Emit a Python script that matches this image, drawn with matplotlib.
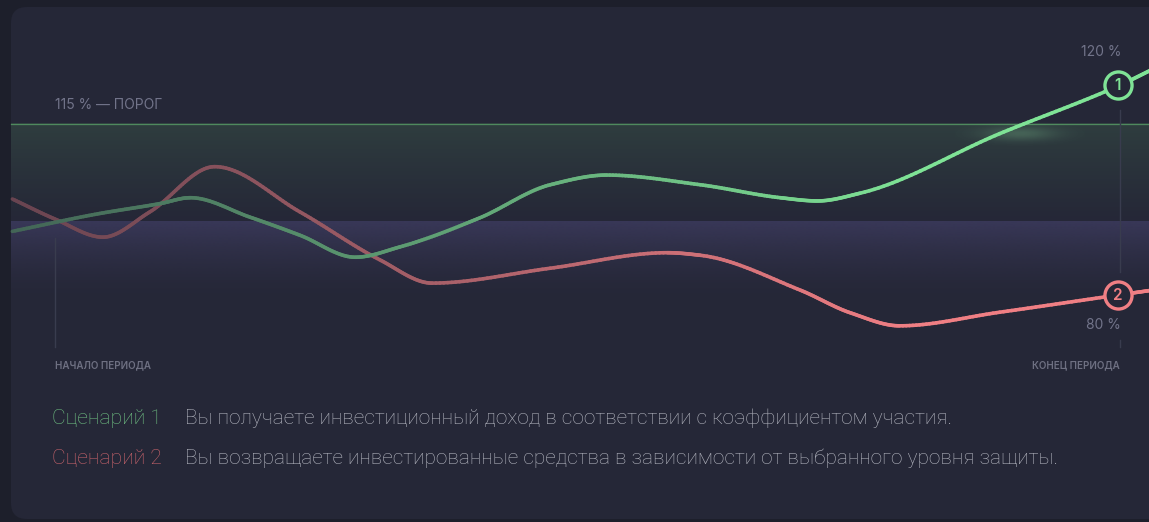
import numpy as np
import matplotlib
matplotlib.use("Agg")
import matplotlib.pyplot as plt
from matplotlib.collections import LineCollection
from matplotlib.patches import FancyBboxPatch
from matplotlib.colors import to_rgb

# period fraction (0 = start, 1 = end) and value, % of invested amount
green_t = [-0.04, 0.04, 0.099, 0.127, 0.183, 0.23, 0.282, 0.324, 0.399, 0.465, 0.518,
           0.606, 0.681, 0.716, 0.756, 0.887, 1.0, 1.03]
green_v = [98.4, 101.1, 102.7, 103.6, 100.6, 97.8, 94.4, 96.0, 100.5, 105.6, 107.1,
           105.6, 103.6, 103.1, 104.3, 113.5, 121.0, 123.4]

red_t = [-0.04, 0.0, 0.045, 0.089, 0.150, 0.230, 0.305, 0.354, 0.465, 0.575,
         0.606, 0.700, 0.747, 0.793, 0.887, 1.0, 1.03]
red_v = [103.4, 100.3, 97.5, 101.4, 108.4, 101.4, 94.0, 90.4, 92.7, 95.1,
         94.7, 89.3, 85.8, 83.8, 85.9, 88.6, 89.3]

threshold = 115
base = 100
scenarios = ["Сценарий 1", "Сценарий 2"]
descriptions = [
    "Вы получаете инвестиционный доход в соответствии с коэффициентом участия.",
    "Вы возвращаете инвестированные средства в зависимости от выбранного уровня защиты.",
]

W, H = 1149, 522
OUTER = "#1d1f2b"
CARD = "#252737"
GREEN = "#7fe396"
RED = "#f07f84"
PX = 6.47  # pixels per percent


def monotone(x, y, n=30):
    # monotone cubic (Fritsch-Carlson) through the points
    x = np.asarray(x, float)
    y = np.asarray(y, float)
    h = np.diff(x)
    d = np.diff(y) / h
    m = np.zeros_like(y)
    m[0], m[-1] = d[0], d[-1]
    for i in range(1, len(x) - 1):
        if d[i - 1] * d[i] <= 0:
            m[i] = 0
        else:
            w1 = 2 * h[i] + h[i - 1]
            w2 = h[i] + 2 * h[i - 1]
            m[i] = (w1 + w2) / (w1 / d[i - 1] + w2 / d[i])
    xs, ys = [], []
    for i in range(len(x) - 1):
        s = np.linspace(0, 1, n, endpoint=False)
        h00 = 2 * s**3 - 3 * s**2 + 1
        h10 = s**3 - 2 * s**2 + s
        h01 = -2 * s**3 + 3 * s**2
        h11 = s**3 - s**2
        xs.append(x[i] + s * h[i])
        ys.append(h00 * y[i] + h10 * h[i] * m[i] + h01 * y[i + 1] + h11 * h[i] * m[i + 1])
    xs.append([x[-1]])
    ys.append([y[-1]])
    return np.concatenate(xs), np.concatenate(ys)


def fade_line(ax, t, v, color, z):
    xs, ys = monotone(t, v)
    pts = np.column_stack([xs, ys]).reshape(-1, 1, 2)
    segs = np.concatenate([pts[:-1], pts[1:]], axis=1)
    mid = (xs[:-1] + xs[1:]) / 2
    a = np.clip(0.33 + 0.67 * (mid + 0.04) / 0.85, 0.33, 1.0)
    c1 = np.array(to_rgb(color))
    c0 = np.array(to_rgb(CARD))
    cols = c0 + (c1 - c0) * a[:, None]
    lc = LineCollection(segs, colors=cols, linewidths=2.6, capstyle="round",
                        joinstyle="round", zorder=z)
    ax.add_collection(lc)


fig = plt.figure(figsize=(W / 100, H / 100), dpi=100)
fig.patch.set_facecolor(OUTER)

# background layer in pixels
bg = fig.add_axes([0, 0, 1, 1])
bg.set_xlim(0, W)
bg.set_ylim(H, 0)
bg.axis("off")
card = FancyBboxPatch((11, 7), 1300, 512, boxstyle="round,pad=0,rounding_size=16",
                      facecolor=CARD, edgecolor="none", zorder=0)
bg.add_patch(card)

# chart layer: x = period fraction, y = percent
ax = fig.add_axes([0, 0, 1, 1])
ax.set_xlim(-55 / 1065, 1094 / 1065)
ax.set_ylim(100 - 301 / PX, 100 + 221 / PX)
ax.axis("off")
ax.patch.set_alpha(0)

x_left = -44 / 1065
x_right = 1094 / 1065

# threshold band (green) from 100 % to 115 %
g = np.linspace(0, 1, 200)[:, None]
band = np.zeros((200, 2, 4))
top_c = np.array(to_rgb("#2f3e3f"))
bot_c = np.array(to_rgb(CARD))
band[..., :3] = (top_c + (bot_c - top_c) * g[..., None] ** 0.9)
band[..., 3] = 1
ax.imshow(band, extent=(x_left, x_right, base, threshold), aspect="auto",
          origin="upper", zorder=1, interpolation="bilinear")
ax.plot([x_left, x_right], [threshold, threshold], color="#4f8a5e", lw=0.9, zorder=2)

# protection band (purple) below 100 %
pb = np.zeros((200, 2, 4))
pb[..., :3] = to_rgb("#393858")
pb[..., 3] = (1 - g) ** 1.6
ax.imshow(pb, extent=(x_left, x_right, base - 12.5, base), aspect="auto",
          origin="upper", zorder=1, interpolation="bilinear")

# soft glow where scenario 1 crosses the threshold
yy, xx = np.mgrid[-1:1:80j, -1:1:200j]
glow = np.zeros((80, 200, 4))
glow[..., :3] = to_rgb("#9cf0b0")
glow[..., 3] = 0.22 * np.exp(-(xx**2 + yy**2) * 3.0)
gx0, gx1 = (955 - 55) / 1065, (1085 - 55) / 1065
ax.imshow(glow, extent=(gx0, gx1, threshold - 3.4, threshold + 0.4), aspect="auto",
          zorder=2, interpolation="bilinear")

# start / end period guides
vc = "#393c4e"
ax.plot([0, 0], [100 - 17 / PX, 100 - 126 / PX], color=vc, lw=1, zorder=2)
ax.plot([1, 1], [100 + 111 / PX, 100 - 51 / PX], color=vc, lw=1, zorder=2)
ax.plot([1, 1], [100 - 119 / PX, 100 - 126 / PX], color=vc, lw=1, zorder=2)

fade_line(ax, red_t, red_v, RED, 4)
fade_line(ax, green_t, green_v, GREEN, 5)

# end markers
for t_arr, v_arr, col, lab in [(green_t, green_v, GREEN, "1"), (red_t, red_v, RED, "2")]:
    i = t_arr.index(1.0)
    ax.plot(t_arr[i] - 0.002, v_arr[i], "o", ms=19.5, mfc=CARD, mec=col, mew=2.4, zorder=6)
    ax.text(t_arr[i] - 0.002, v_arr[i] - 0.1, lab, color=col, fontsize=11,
            family="Inter", weight="semibold", ha="center", va="center", zorder=7)

lab_c = "#72748a"
lab_font = dict(family="Inter", fontsize=10, color=lab_c, va="center")
bg.text(55, 105, "115 % — ПОРОГ", ha="left", **lab_font)
bg.text(55, 201, "100 %", ha="left", **lab_font)
bg.text(1121, 52, "120 %", ha="right", **lab_font)
bg.text(1121, 325, "80 %", ha="right", **lab_font)

cap_font = dict(family="Inter", fontsize=7.05, color="#6e7082", weight="semibold", va="center")
bg.text(55, 365, "НАЧАЛО ПЕРИОДА", ha="left", **cap_font)
bg.text(1120, 365, "КОНЕЦ ПЕРИОДА", ha="right", **cap_font)

# scenario legend
sc_cols = ["#6fbf82", "#c9646c"]
for k, (name, desc) in enumerate(zip(scenarios, descriptions)):
    y = 418 + 40 * k
    bg.text(52, y, name, color=sc_cols[k], fontsize=15.2, family="Roboto",
            weight="light", va="center", ha="left")
    bg.text(185, y, desc, color="#b4b6c0", fontsize=15.05, family="Roboto",
            weight="light", va="center", ha="left")

fig.savefig("out.png", dpi=100, facecolor=OUTER)
